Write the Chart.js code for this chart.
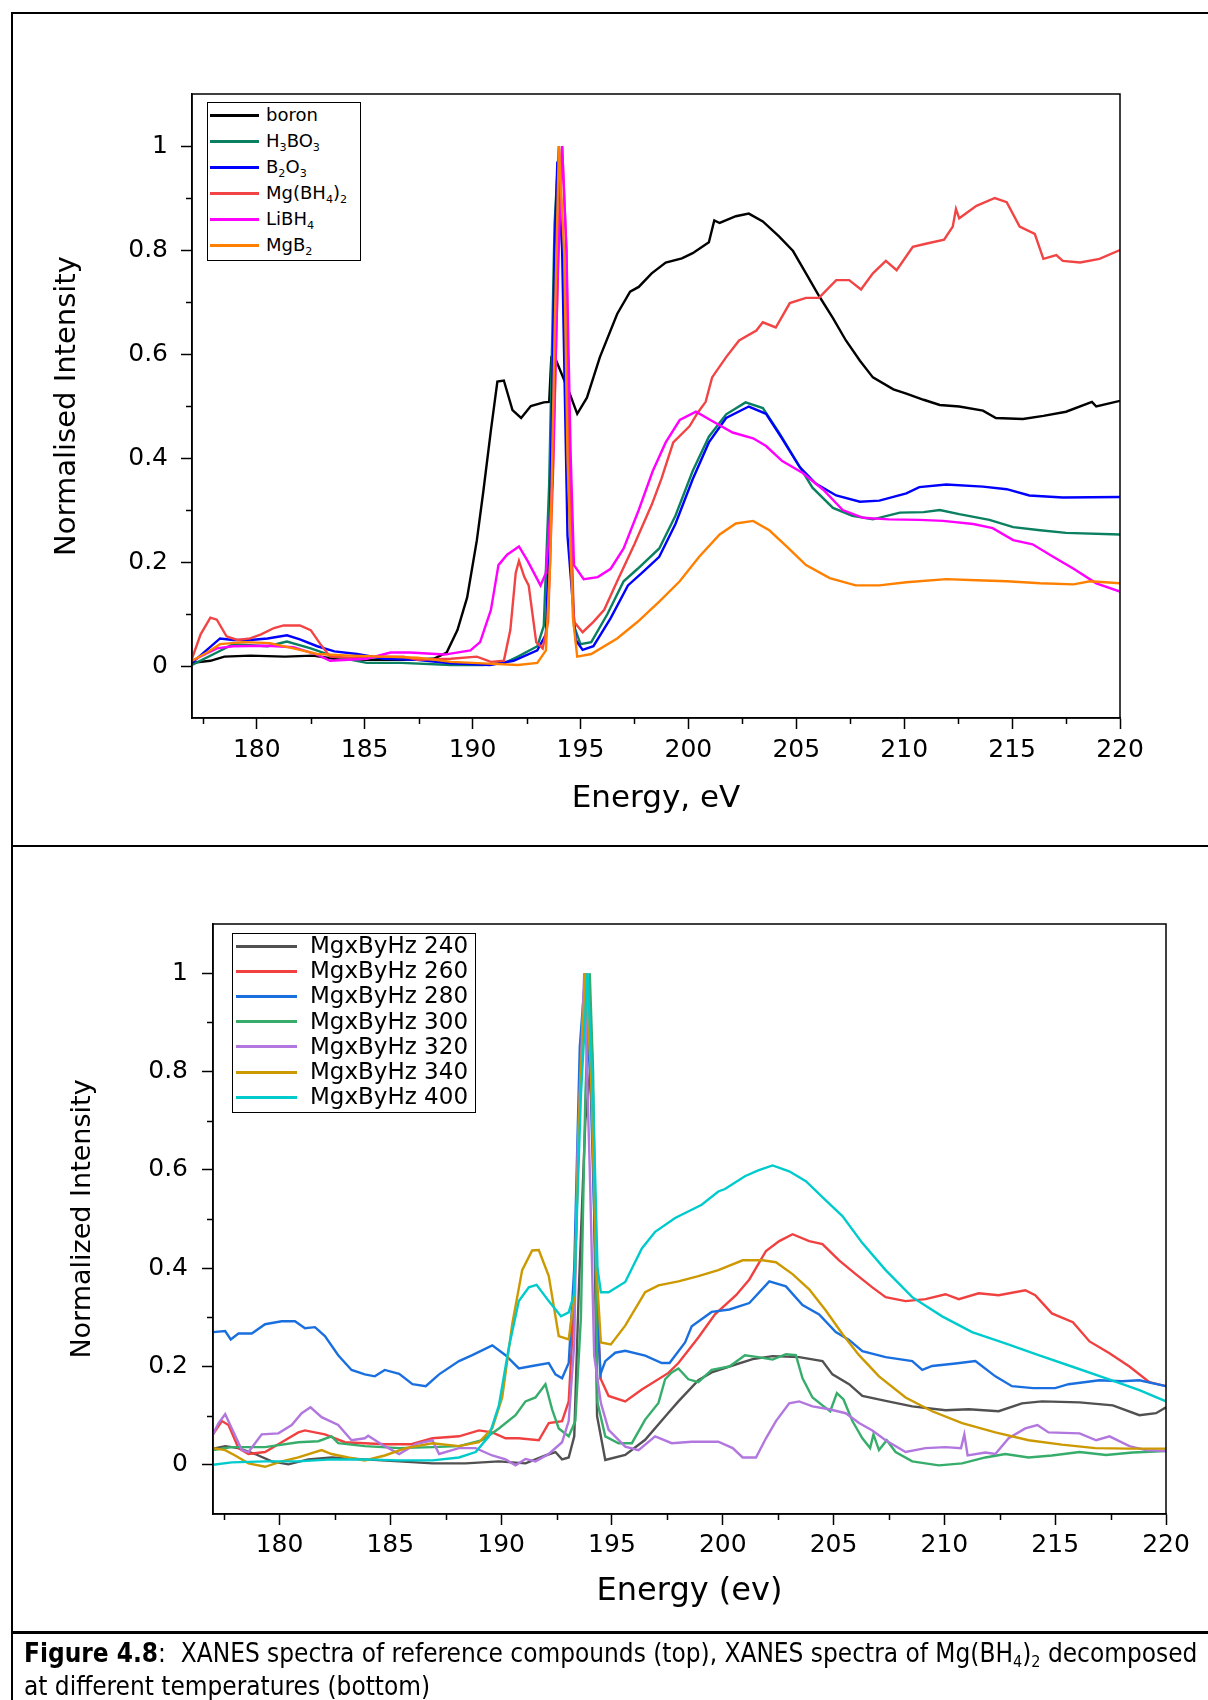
<!DOCTYPE html>
<html>
<head>
<meta charset="utf-8">
<title>XANES spectra</title>
<script src="https://cdn.jsdelivr.net/npm/chart.js@4.4.1/dist/chart.umd.min.js"></script>
<style>
  html, body { margin: 0; padding: 0; background: #fff; }
  #page { position: relative; width: 1208px; height: 1700px; overflow: hidden; font-family: "DejaVu Sans", sans-serif; }
  canvas { position: absolute; left: 0; }
  #topChart { top: 0; }
  #bottomChart { top: 846px; }
  .rule { position: absolute; background: #000; }
  .legend { position: absolute; border: 1.5px solid #000; background: #fff; box-sizing: border-box; }
  .legend .row { position: absolute; left: 0; right: 0; height: 0; }
  .legend .swatch { position: absolute; height: 3px; margin-top: -1.5px; }
  .legend .label { position: absolute; top: 0; transform: translateY(-50%); white-space: nowrap; color: #000; line-height: 1.2; }
  sub { font-size: 0.62em; vertical-align: -0.3em; line-height: 0; }
  .caption { position: absolute; left: 24px; white-space: nowrap; font-family: "Liberation Sans Narrow", "DejaVu Sans Condensed", sans-serif; font-size: 28px; line-height: 33px; color: #000; }
</style>
</head>
<body>
<div id="page">
  <canvas id="topChart" width="1208" height="846"></canvas>
  <canvas id="bottomChart" width="1208" height="786"></canvas>

  <div class="rule" style="left:11px; top:12px; width:1197px; height:1.5px;"></div>
  <div class="rule" style="left:11px; top:12px; width:1.5px; height:1688px;"></div>
  <div class="rule" style="left:11px; top:845px; width:1197px; height:1.5px;"></div>
  <div class="rule" style="left:11px; top:1631px; width:1197px; height:2.5px;"></div>

  <div id="topLegend" class="legend" style="left:207px; top:102px; width:154px; height:159px;"></div>
  <div id="bottomLegend" class="legend" style="left:232px; top:933px; width:244px; height:180px;"></div>

  <div id="cap1" class="caption" style="top:1637px;"><b>Figure 4.8</b>:&nbsp; XANES spectra of reference compounds (top), XANES spectra of Mg(BH<sub>4</sub>)<sub>2</sub> decomposed</div>
  <div id="cap2" class="caption" style="top:1670px;">at different temperatures (bottom)</div>
</div>

<script>
// ---------- top panel: reference compounds ----------
const boronE = [177, 177.85, 178.5, 179.7, 181.3, 182.6, 183.6, 185.1, 186.7, 188.2,
  188.8, 189.3, 189.75, 190.2, 190.5, 190.85, 191.15, 191.45, 191.85, 192.25,
  192.7, 193.3, 193.55, 193.65, 193.75, 194.5, 194.85, 195.3, 195.9, 196.7,
  197.3, 197.7, 198.3, 198.95, 199.7, 200.2, 200.95, 201.2, 201.45, 202.2,
  202.8, 203.45, 204.2, 204.85, 205.45, 206.05, 206.7, 207.3, 207.95, 208.55,
  209.5, 210.1, 210.9, 211.65, 212.55, 213.65, 214.25, 215.5, 216.45, 217.5,
  218.7, 218.9, 220];
const boronI = [0.006, 0.010, 0.018, 0.020, 0.018, 0.020, 0.014, 0.012, 0.012, 0.014,
  0.026, 0.069, 0.132, 0.242, 0.336, 0.453, 0.547, 0.549, 0.492, 0.477,
  0.500, 0.507, 0.508, 0.594, 0.600, 0.524, 0.485, 0.516, 0.594, 0.677,
  0.720, 0.729, 0.755, 0.776, 0.784, 0.794, 0.815, 0.857, 0.852, 0.865,
  0.870, 0.855, 0.826, 0.798, 0.755, 0.712, 0.669, 0.626, 0.587, 0.555,
  0.532, 0.524, 0.512, 0.502, 0.499, 0.491, 0.477, 0.475, 0.481, 0.489,
  0.508, 0.499, 0.510];

const h3bo3E = [177, 178.15, 178.9, 180.5, 181.4, 182.5, 183.6, 185.1, 186.7, 189,
  190.5, 191.5, 192.1, 193.0, 193.3, 193.55, 193.8, 194.0, 194.25, 194.5,
  194.7, 195.0, 195.5, 196.25, 197.0, 197.65, 198.65, 199.4, 200.2, 200.95,
  201.75, 202.65, 203.45, 204.2, 205.0, 205.75, 206.7, 207.6, 208.55, 209.8,
  210.9, 211.65, 212.55, 213.95, 215.05, 216.3, 217.5, 220];
const h3bo3I = [0.002, 0.026, 0.042, 0.038, 0.047, 0.034, 0.018, 0.006, 0.006, 0.002,
  0.002, 0.006, 0.018, 0.038, 0.077, 0.35, 0.85, 1.0, 0.75, 0.30,
  0.077, 0.042, 0.046, 0.100, 0.163, 0.187, 0.226, 0.289, 0.375, 0.441,
  0.484, 0.507, 0.496, 0.449, 0.394, 0.343, 0.304, 0.289, 0.282, 0.295,
  0.296, 0.300, 0.292, 0.281, 0.267, 0.261, 0.256, 0.253];

const b2o3E = [177, 178.3, 178.9, 179.7, 180.5, 181.4, 182.0, 182.8, 183.6, 184.65,
  185.9, 187.4, 189.0, 190.8, 191.9, 193.0, 193.4, 193.6, 193.8, 193.93,
  194.15, 194.4, 194.78, 195.1, 195.6, 196.4, 197.2, 197.95, 198.65, 199.4,
  200.2, 200.95, 201.75, 202.8, 203.6, 204.35, 205.15, 205.9, 206.85, 207.95,
  208.85, 210.1, 210.7, 211.95, 213.65, 214.75, 215.8, 217.35, 220];
const b2o3I = [0.006, 0.053, 0.050, 0.050, 0.053, 0.059, 0.051, 0.038, 0.028, 0.023,
  0.014, 0.012, 0.005, 0.002, 0.010, 0.030, 0.061, 0.30, 0.80, 0.97,
  0.80, 0.25, 0.050, 0.031, 0.038, 0.092, 0.155, 0.183, 0.210, 0.273,
  0.359, 0.430, 0.477, 0.499, 0.485, 0.437, 0.383, 0.351, 0.328, 0.316,
  0.318, 0.332, 0.344, 0.349, 0.345, 0.340, 0.328, 0.324, 0.325];

const mgbh4E = [177, 177.4, 177.85, 178.15, 178.6, 179.1, 179.7, 180.2, 180.8, 181.25,
  182.0, 182.5, 182.95, 183.4, 184.35, 185.9, 186.8, 187.45, 189.0, 190.2,
  190.85, 191.45, 191.75, 192.0, 192.15, 192.4, 192.6, 192.95, 193.25, 193.5,
  193.75, 194.0, 194.15, 194.35, 194.5, 194.7, 195.1, 195.6, 196.1, 196.7,
  197.5, 198.3, 198.75, 199.3, 200.05, 200.45, 200.8, 201.1, 201.75, 202.35,
  203.15, 203.45, 204.05, 204.7, 205.45, 206.05, 206.85, 207.45, 208.0, 208.55,
  209.15, 209.65, 210.4, 211.0, 211.85, 212.25, 212.4, 212.55, 213.35, 214.2,
  214.75, 215.35, 216.05, 216.45, 217.05, 217.35, 218.15, 219.05, 220];
const mgbh4I = [0.014, 0.061, 0.093, 0.089, 0.057, 0.050, 0.053, 0.061, 0.073, 0.078,
  0.078, 0.069, 0.042, 0.018, 0.016, 0.018, 0.018, 0.012, 0.014, 0.018,
  0.008, 0.010, 0.069, 0.179, 0.202, 0.171, 0.155, 0.046, 0.034, 0.085,
  0.40, 0.85, 1.0, 0.80, 0.35, 0.085, 0.065, 0.085, 0.108, 0.163,
  0.234, 0.310, 0.360, 0.430, 0.461, 0.488, 0.508, 0.555, 0.594, 0.626,
  0.645, 0.661, 0.651, 0.698, 0.708, 0.708, 0.742, 0.742, 0.724, 0.755,
  0.779, 0.761, 0.806, 0.812, 0.820, 0.845, 0.879, 0.861, 0.885, 0.900,
  0.892, 0.845, 0.831, 0.783, 0.790, 0.779, 0.776, 0.783, 0.800];

const libh4E = [177, 178.15, 178.9, 180.5, 181.7, 182.8, 183.4, 185.1, 186.2, 187.1,
  188.7, 189.9, 190.35, 190.85, 191.2, 191.6, 192.15, 192.55, 193.15, 193.4,
  193.7, 193.95, 194.15, 194.35, 194.55, 194.7, 195.15, 195.8, 196.4, 197.0,
  197.7, 198.35, 198.95, 199.6, 200.35, 201.1, 202.05, 203.0, 203.6, 204.35,
  205.3, 206.25, 207.15, 208.1, 209.3, 210.7, 211.8, 213.2, 214.1, 215.05,
  215.95, 216.9, 217.85, 218.9, 220];
const libh4I = [0.010, 0.034, 0.038, 0.039, 0.036, 0.022, 0.010, 0.014, 0.026, 0.026,
  0.022, 0.030, 0.046, 0.108, 0.194, 0.214, 0.230, 0.202, 0.155, 0.179,
  0.35, 0.75, 1.0, 0.80, 0.40, 0.194, 0.167, 0.171, 0.187, 0.226,
  0.300, 0.375, 0.430, 0.473, 0.489, 0.471, 0.449, 0.438, 0.423, 0.394,
  0.371, 0.339, 0.300, 0.285, 0.282, 0.281, 0.279, 0.273, 0.265, 0.242,
  0.234, 0.210, 0.187, 0.159, 0.143];

const mgb2E = [177, 177.7, 178.3, 179.4, 180.6, 181.7, 182.8, 184.35, 185.9, 187.45,
  189.0, 190.5, 192.1, 193.0, 193.4, 193.6, 193.8, 194.0, 194.25, 194.4,
  194.65, 194.85, 195.5, 196.7, 197.65, 198.65, 199.6, 200.5, 201.45, 202.2,
  203.0, 203.75, 204.55, 205.45, 206.55, 207.75, 208.85, 210.1, 211.95, 213.35,
  214.75, 216.3, 217.85, 218.6, 220];
const mgb2I = [0.010, 0.026, 0.042, 0.046, 0.044, 0.034, 0.023, 0.020, 0.018, 0.016,
  0.008, 0.005, 0.002, 0.006, 0.030, 0.202, 0.634, 1.0, 0.79, 0.398,
  0.093, 0.018, 0.023, 0.053, 0.085, 0.124, 0.163, 0.210, 0.253, 0.274,
  0.279, 0.261, 0.230, 0.194, 0.169, 0.155, 0.155, 0.161, 0.167, 0.165,
  0.163, 0.159, 0.157, 0.163, 0.159];

const topNames = ['boron', 'H<sub>3</sub>BO<sub>3</sub>', 'B<sub>2</sub>O<sub>3</sub>',
  'Mg(BH<sub>4</sub>)<sub>2</sub>', 'LiBH<sub>4</sub>', 'MgB<sub>2</sub>'];
const topColors = ['#000000', '#0a8060', '#0000ff', '#f24444', '#ff00ff', '#ff8000'];

// ---------- bottom panel: Mg(BH4)2 decomposed at each temperature ----------
const t240E = [177, 177.55, 178.15, 178.9, 179.65, 180.4, 181.3, 182.35, 183.85, 185.4,
  186.9, 188.4, 189.9, 191.1, 192.0, 192.45, 192.75, 193.05, 193.3, 193.5,
  193.8, 194.1, 194.33, 194.7, 195.6, 196.5, 197.55, 198.0, 198.9, 199.5,
  200.3, 201.35, 202.25, 203.45, 204.5, 204.95, 205.7, 206.3, 207.35, 208.55,
  210.05, 211.1, 212.45, 213.5, 214.4, 216.1, 217.6, 218.8, 219.55, 220];
const t240I = [0.033, 0.038, 0.034, 0.022, 0.007, 0.001, 0.011, 0.015, 0.011, 0.007,
  0.003, 0.003, 0.007, 0.003, 0.019, 0.026, 0.011, 0.015, 0.058, 0.349,
  0.70, 0.84, 0.099, 0.010, 0.020, 0.051, 0.106, 0.129, 0.172, 0.188,
  0.200, 0.215, 0.221, 0.219, 0.211, 0.184, 0.164, 0.140, 0.130, 0.119,
  0.111, 0.113, 0.109, 0.125, 0.129, 0.127, 0.121, 0.101, 0.105, 0.117];

const t260E = [177, 177.4, 177.7, 178.15, 178.6, 179.35, 180.1, 180.85, 181.15, 182.05,
  182.95, 183.85, 184.75, 185.95, 186.9, 188.1, 189.0, 189.6, 190.2, 190.8,
  191.7, 192.15, 192.75, 193.05, 193.3, 193.55, 193.85, 194.1, 194.3, 194.5,
  194.85, 195.6, 196.35, 197.55, 198.0, 198.9, 199.65, 200.6, 201.2, 201.95,
  202.55, 203.15, 203.9, 204.5, 205.25, 206.0, 206.75, 207.35, 208.25, 209.15,
  210.05, 210.65, 211.55, 212.45, 213.65, 214.1, 214.85, 215.8, 216.55, 217.45,
  218.35, 219.25, 220];
const t260I = [0.062, 0.089, 0.081, 0.034, 0.022, 0.026, 0.046, 0.066, 0.070, 0.062,
  0.046, 0.044, 0.042, 0.042, 0.054, 0.058, 0.070, 0.066, 0.054, 0.054,
  0.050, 0.085, 0.089, 0.129, 0.333, 0.75, 1.0, 0.80, 0.35, 0.174,
  0.140, 0.129, 0.153, 0.187, 0.207, 0.259, 0.306, 0.345, 0.377, 0.435,
  0.455, 0.469, 0.455, 0.449, 0.416, 0.388, 0.361, 0.341, 0.333, 0.337,
  0.347, 0.337, 0.349, 0.345, 0.355, 0.345, 0.308, 0.290, 0.251, 0.227,
  0.200, 0.168, 0.160];

const t280E = [177, 177.55, 177.8, 178.15, 178.75, 179.35, 180.1, 180.7, 181.15, 181.6,
  182.05, 182.65, 183.25, 183.85, 184.3, 184.75, 185.4, 186.0, 186.6, 187.2,
  188.1, 188.7, 189.6, 190.2, 190.8, 191.4, 192.15, 192.45, 192.75, 193.05,
  193.3, 193.55, 193.8, 194.05, 194.3, 194.48, 194.7, 195.15, 195.6, 196.5,
  197.25, 197.6, 198.0, 198.3, 198.6, 199.5, 200.3, 201.2, 202.1, 202.85,
  203.6, 204.35, 205.1, 205.7, 206.3, 207.35, 208.55, 209.0, 209.45, 210.5,
  211.4, 212.3, 213.05, 214.0, 215.0, 215.6, 217.0, 218.0, 218.8, 220];
const t280I = [0.270, 0.272, 0.255, 0.267, 0.267, 0.286, 0.292, 0.292, 0.278, 0.280,
  0.262, 0.223, 0.193, 0.184, 0.180, 0.193, 0.185, 0.164, 0.160, 0.184,
  0.211, 0.223, 0.243, 0.223, 0.196, 0.201, 0.207, 0.184, 0.176, 0.207,
  0.40, 0.85, 1.0, 0.75, 0.35, 0.184, 0.211, 0.228, 0.232, 0.222,
  0.207, 0.207, 0.231, 0.249, 0.282, 0.311, 0.316, 0.329, 0.373, 0.363,
  0.325, 0.306, 0.270, 0.254, 0.231, 0.219, 0.211, 0.193, 0.201, 0.206,
  0.211, 0.180, 0.160, 0.156, 0.156, 0.164, 0.172, 0.170, 0.172, 0.160];

const t300E = [177, 177.85, 179.35, 180.85, 181.75, 182.35, 182.65, 183.85, 185.4, 186.9,
  188.1, 189.15, 189.9, 190.65, 191.1, 191.55, 192.0, 192.3, 192.6, 193.05,
  193.35, 193.6, 193.8, 194.0, 194.15, 194.35, 194.7, 195.3, 195.9, 196.5,
  197.1, 197.4, 197.7, 198.0, 198.45, 198.9, 199.5, 200.3, 201.0, 201.6,
  202.25, 202.85, 203.3, 203.6, 204.05, 204.5, 204.85, 205.15, 205.45, 205.85,
  206.3, 206.65, 206.8, 207.05, 207.4, 207.8, 208.55, 209.75, 210.8, 211.85,
  212.75, 213.8, 214.85, 216.1, 217.3, 218.5, 220];
const t300I = [0.030, 0.036, 0.036, 0.046, 0.048, 0.058, 0.044, 0.038, 0.034, 0.036,
  0.038, 0.050, 0.074, 0.101, 0.129, 0.137, 0.164, 0.113, 0.074, 0.058,
  0.089, 0.30, 0.75, 1.0, 0.80, 0.126, 0.058, 0.044, 0.044, 0.092,
  0.126, 0.174, 0.188, 0.196, 0.174, 0.168, 0.193, 0.200, 0.223, 0.219,
  0.214, 0.225, 0.223, 0.176, 0.137, 0.121, 0.109, 0.146, 0.133, 0.089,
  0.054, 0.034, 0.062, 0.030, 0.050, 0.026, 0.007, -0.001, 0.003, 0.015,
  0.022, 0.015, 0.019, 0.026, 0.020, 0.025, 0.028];

const t320E = [177, 177.25, 177.55, 177.85, 178.3, 178.6, 179.2, 179.95, 180.55, 181.0,
  181.4, 181.9, 182.65, 183.25, 183.85, 184.0, 184.6, 185.4, 186.15, 186.9,
  187.2, 188.1, 188.85, 189.6, 190.2, 190.65, 191.1, 191.55, 192.15, 192.75,
  193.05, 193.3, 193.45, 193.75, 194.0, 194.2, 194.5, 194.85, 195.6, 196.2,
  196.95, 197.7, 198.6, 199.8, 200.45, 200.9, 201.5, 201.95, 202.4, 203.0,
  203.45, 204.05, 204.8, 205.55, 206.15, 206.75, 207.35, 208.25, 209.15, 210.05,
  210.75, 210.9, 211.05, 211.85, 212.3, 212.9, 213.65, 214.2, 214.7, 216.1,
  216.85, 217.45, 218.35, 219.1, 220];
const t320I = [0.062, 0.085, 0.103, 0.074, 0.030, 0.026, 0.062, 0.064, 0.081, 0.105,
  0.117, 0.097, 0.081, 0.050, 0.054, 0.059, 0.042, 0.022, 0.042, 0.050,
  0.022, 0.034, 0.034, 0.019, 0.011, -0.001, 0.012, 0.007, 0.022, 0.046,
  0.089, 0.247, 0.640, 1.0, 0.60, 0.222, 0.126, 0.071, 0.037, 0.030,
  0.058, 0.044, 0.047, 0.047, 0.034, 0.015, 0.015, 0.054, 0.089, 0.125,
  0.129, 0.119, 0.113, 0.105, 0.085, 0.070, 0.050, 0.026, 0.034, 0.036,
  0.034, 0.062, 0.019, 0.025, 0.022, 0.054, 0.074, 0.081, 0.066, 0.064,
  0.050, 0.058, 0.038, 0.030, 0.028];

const t340E = [177, 177.55, 178.0, 178.6, 179.35, 180.1, 180.85, 181.9, 182.35, 183.1,
  183.85, 184.75, 185.7, 186.9, 188.1, 189.0, 189.6, 190.05, 190.5, 190.95,
  191.4, 191.7, 192.15, 192.6, 193.05, 193.3, 193.55, 193.8, 194.05, 194.3,
  194.5, 194.95, 195.6, 196.5, 197.1, 198.0, 198.9, 199.8, 200.9, 201.8,
  202.4, 203.15, 203.9, 204.65, 205.4, 206.15, 207.05, 208.25, 209.45, 210.8,
  212.3, 213.8, 215.3, 216.8, 218.3, 220];
const t340I = [0.034, 0.030, 0.019, 0.003, -0.004, 0.007, 0.015, 0.030, 0.022, 0.015,
  0.009, 0.019, 0.034, 0.044, 0.038, 0.046, 0.074, 0.137, 0.286, 0.396,
  0.436, 0.437, 0.384, 0.262, 0.255, 0.341, 0.75, 1.0, 0.80, 0.40,
  0.249, 0.245, 0.283, 0.351, 0.365, 0.373, 0.384, 0.396, 0.416, 0.416,
  0.412, 0.388, 0.357, 0.314, 0.266, 0.223, 0.180, 0.137, 0.109, 0.085,
  0.066, 0.050, 0.041, 0.034, 0.033, 0.033];

const t400E = [177, 177.85, 179.35, 180.85, 182.35, 183.85, 185.4, 186.9, 188.1, 188.85,
  189.45, 189.9, 190.35, 190.8, 191.25, 191.6, 192.15, 192.7, 193.05, 193.3,
  193.6, 193.9, 194.15, 194.35, 194.5, 194.85, 195.6, 196.35, 196.95, 197.85,
  199.05, 199.8, 200.1, 201.0, 201.6, 202.25, 203.0, 203.75, 204.65, 205.4,
  206.3, 207.35, 208.55, 209.9, 211.25, 212.75, 214.25, 215.75, 217.3, 218.8,
  220];
const t400I = [0.0, 0.005, 0.007, 0.007, 0.011, 0.011, 0.009, 0.009, 0.015, 0.026,
  0.058, 0.121, 0.239, 0.333, 0.361, 0.366, 0.333, 0.302, 0.310, 0.349,
  0.75, 1.0, 0.75, 0.40, 0.351, 0.351, 0.372, 0.440, 0.474, 0.502,
  0.529, 0.556, 0.561, 0.587, 0.599, 0.609, 0.597, 0.577, 0.538, 0.506,
  0.451, 0.396, 0.341, 0.302, 0.270, 0.247, 0.223, 0.200, 0.176, 0.152,
  0.129];

const bottomNames = ['MgxByHz 240', 'MgxByHz 260', 'MgxByHz 280', 'MgxByHz 300',
  'MgxByHz 320', 'MgxByHz 340', 'MgxByHz 400'];
const bottomColors = ['#515151', '#f14040', '#1a6fdf', '#37ad6b', '#b177de', '#cc9900', '#00cbcc'];

// ---------- shared axes ----------
const energyTicks = [180, 185, 190, 195, 200, 205, 210, 215, 220];
const energyMinor = [177.5, 182.5, 187.5, 192.5, 197.5, 202.5, 207.5, 212.5, 217.5];
const intensityTicks = [0, 0.2, 0.4, 0.6, 0.8, 1];
const intensityMinor = [0.1, 0.3, 0.5, 0.7, 0.9];

const FONT = '"DejaVu Sans", sans-serif';

function toPoints(E, I) {
  if (E.length !== I.length) throw new Error('length mismatch ' + E.length + ' / ' + I.length);
  return E.map((x, i) => ({ x: x, y: I[i] }));
}

function makeSets(list, colors) {
  // later curves are painted over earlier ones
  return list.map((s, i) => ({
    data: toPoints(s[0], s[1]),
    borderColor: colors[i],
    borderWidth: 2.4,
    pointRadius: 0,
    tension: 0,
    fill: false,
    order: list.length - i
  }));
}

// box around the plot area plus the short unlabeled ticks
const frame = {
  id: 'frame',
  afterDraw(chart) {
    const { ctx, chartArea: a, scales } = chart;
    ctx.save();
    ctx.strokeStyle = '#000';
    ctx.lineWidth = 1.5;
    ctx.strokeRect(a.left, a.top, a.right - a.left, a.bottom - a.top);
    ctx.beginPath();
    energyMinor.forEach(v => {
      const px = Math.round(scales.x.getPixelForValue(v)) + 0.5;
      ctx.moveTo(px, a.bottom);
      ctx.lineTo(px, a.bottom + 6);
    });
    intensityMinor.forEach(v => {
      const py = Math.round(scales.y.getPixelForValue(v)) + 0.5;
      ctx.moveTo(a.left, py);
      ctx.lineTo(a.left - 6, py);
    });
    ctx.stroke();
    ctx.restore();
  }
};

function panel(p) {
  return {
    responsive: false,
    animation: false,
    devicePixelRatio: 1,
    layout: { padding: { left: 0, top: p.top, right: p.right, bottom: 0 } },
    plugins: { legend: { display: false }, tooltip: { enabled: false } },
    scales: {
      x: {
        type: 'linear', min: 177, max: 220,
        afterBuildTicks: s => { s.ticks = energyTicks.map(v => ({ value: v })); },
        afterFit: s => { s.height = p.xHeight; },
        grid: { drawOnChartArea: false, drawTicks: true, tickLength: 11, tickWidth: 1.5, tickColor: '#000' },
        border: { display: true, color: '#000', width: 1.5 },
        ticks: { autoSkip: false, maxRotation: 0, padding: p.xPad, color: '#000',
                 font: { family: FONT, size: 25 }, callback: v => String(v) },
        title: { display: true, text: p.xTitle, color: '#000',
                 font: { family: FONT, size: p.xTitleSize },
                 padding: { top: 0, bottom: p.xTitlePad } }
      },
      y: {
        type: 'linear', min: -0.1, max: 1.1,
        afterBuildTicks: s => { s.ticks = intensityTicks.map(v => ({ value: v })); },
        afterFit: s => { s.width = p.yWidth; },
        grid: { drawOnChartArea: false, drawTicks: true, tickLength: 11, tickWidth: 1.5, tickColor: '#000' },
        border: { display: true, color: '#000', width: 1.5 },
        ticks: { autoSkip: false, padding: p.yPad, color: '#000',
                 font: { family: FONT, size: 25 }, callback: v => String(v) },
        title: { display: true, text: p.yTitle, color: '#000',
                 font: { family: FONT, size: p.yTitleSize },
                 padding: { top: p.yTitlePad, bottom: 0 } }
      }
    }
  };
}

new Chart(document.getElementById('topChart'), {
  type: 'line',
  data: { datasets: makeSets([[boronE, boronI], [h3bo3E, h3bo3I], [b2o3E, b2o3I],
    [mgbh4E, mgbh4I], [libh4E, libh4I], [mgb2E, mgb2I]], topColors) },
  options: panel({ top: 94, right: 88, xHeight: 128, yWidth: 192, xPad: 6, yPad: 13,
    xTitle: 'Energy, eV', xTitleSize: 31, xTitlePad: 28,
    yTitle: 'Normalised Intensity', yTitleSize: 29, yTitlePad: 50 }),
  plugins: [frame]
});

new Chart(document.getElementById('bottomChart'), {
  type: 'line',
  data: { datasets: makeSets([[t240E, t240I], [t260E, t260I], [t280E, t280I], [t300E, t300I],
    [t320E, t320I], [t340E, t340I], [t400E, t400I]], bottomColors) },
  options: panel({ top: 78, right: 42, xHeight: 118, yWidth: 213, xPad: 5, yPad: 14,
    xTitle: 'Energy (ev)', xTitleSize: 32, xTitlePad: 21,
    yTitle: 'Normalized Intensity', yTitleSize: 27, yTitlePad: 67 }),
  plugins: [frame]
});

// ---------- legends (html so the chemical formulas get real subscripts) ----------
function buildLegend(el, names, colors, o) {
  names.forEach((name, i) => {
    const row = document.createElement('div');
    row.className = 'row';
    row.style.top = (o.first + i * o.step) + 'px';
    const sw = document.createElement('span');
    sw.className = 'swatch';
    sw.style.left = o.swLeft + 'px';
    sw.style.width = o.swWidth + 'px';
    sw.style.background = colors[i];
    const lb = document.createElement('span');
    lb.className = 'label';
    lb.style.left = o.textLeft + 'px';
    lb.style.fontSize = o.size + 'px';
    lb.innerHTML = name;
    row.appendChild(sw);
    row.appendChild(lb);
    el.appendChild(row);
  });
}
buildLegend(document.getElementById('topLegend'), topNames, topColors,
  { first: 12, step: 26, swLeft: 2, swWidth: 49, textLeft: 58, size: 18 });
buildLegend(document.getElementById('bottomLegend'), bottomNames, bottomColors,
  { first: 12, step: 25.2, swLeft: 3, swWidth: 61, textLeft: 77, size: 23 });

// caption: fit the first line to the page width
const cap1 = document.getElementById('cap1');
const cap2 = document.getElementById('cap2');
const w = cap1.getBoundingClientRect().width;
const fs = 28 * 1174 / w;
cap1.style.fontSize = fs + 'px';
cap2.style.fontSize = fs + 'px';
</script>
</body>
</html>
